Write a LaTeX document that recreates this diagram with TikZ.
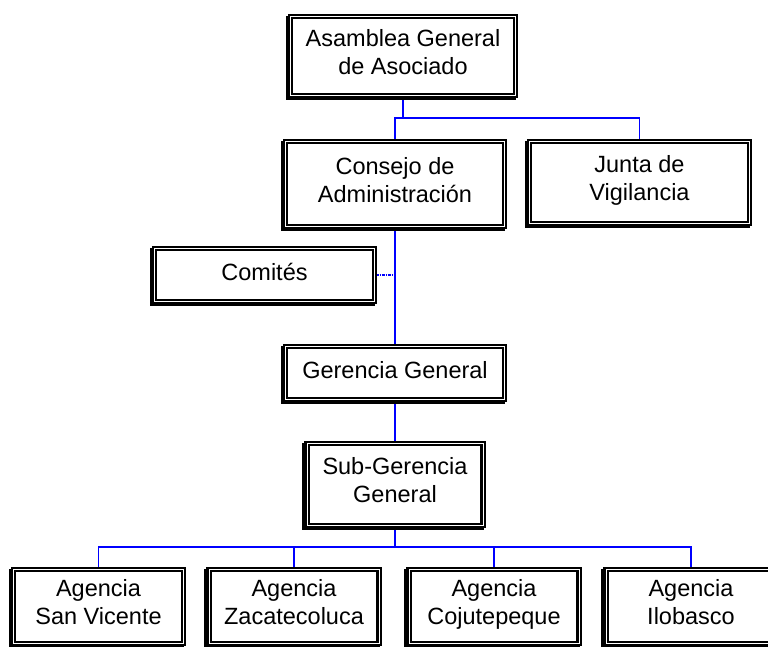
\documentclass[tikz,border=0pt]{standalone}
\usepackage{fontspec}
\setmainfont{Liberation Sans}
\usetikzlibrary{backgrounds}
\tikzstyle{unit}=[draw, fill=white, line width=2.4pt, double=white, double distance=1pt, align=center, inner sep=0pt, font=\fontsize{23.5}{28}\selectfont, execute at end node=\strut, preaction={draw=black, line width=5.8pt, transform canvas={xshift=-2pt, yshift=-2pt}}]
\tikzstyle{link}=[draw=blue, line width=1.4pt]
\tikzstyle{aux}=[draw=blue, line width=1.4pt, dash pattern=on 3pt off 1pt on 1pt off 1pt]

\begin{document}
\begin{tikzpicture}[x=1pt, y=-1pt]
\useasboundingbox (0,0) rectangle (768,646);
\clip (0,0) rectangle (768,646);
\node[unit, minimum width=225pt, minimum height=79pt] (asamblea) at (403,56) {Asamblea General\\de Asociado};
\node[unit, minimum width=219pt, minimum height=85pt] (consejo) at (395,184) {Consejo de\\Administración};
\node[unit, minimum width=220pt, minimum height=82pt] (junta) at (639.5,182.5) {Junta de\\Vigilancia};
\node[unit, minimum width=220pt, minimum height=53pt] (comites) at (264.5,275) {Comités};
\node[unit, minimum width=219pt, minimum height=53pt] (gerencia) at (395,373) {Gerencia General};
\node[unit, minimum width=176pt, minimum height=82pt] (sub) at (395,484.5) {Sub-Gerencia\\General};
\foreach \n/\x/\t in {1/98.5/San Vicente, 2/294/Zacatecoluca, 3/494/Cojutepeque, 4/691/Ilobasco}
  \node[unit, minimum width=170pt, minimum height=74pt] (ag\n) at (\x,606.5) {Agencia\\\t};
\coordinate (top) at (403,118);
\coordinate (bus) at (395,547);
\begin{pgfonlayer}{background}
\draw[link] (asamblea) -- (top);
\draw[link] (top) -| (consejo);
\draw[link] (top) -| (junta);
\draw[link] (consejo) -- (gerencia);
\draw[aux] (comites.east) -- (comites.east -| consejo.south);
\draw[link] (gerencia) -- (sub);
\draw[link] (sub) -- (bus);
\foreach \n in {1,...,4}
  \draw[link] (bus) -| (ag\n);
\end{pgfonlayer}
\end{tikzpicture}
\end{document}
